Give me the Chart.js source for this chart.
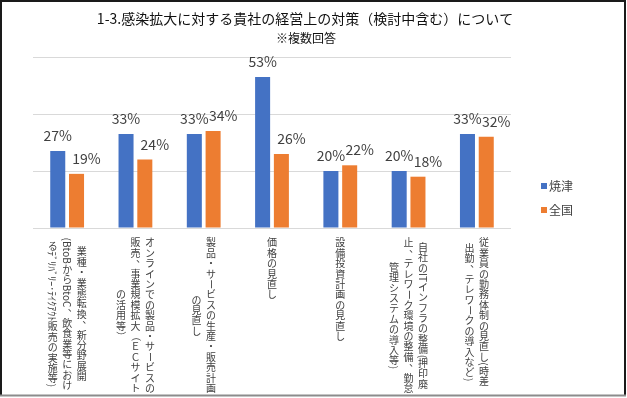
<!DOCTYPE html>
<html><head><meta charset="utf-8">
<script src="https://cdn.jsdelivr.net/npm/chart.js@4.4.0/dist/chart.umd.min.js"></script>
<style>html,body{margin:0;padding:0;background:#fff;}canvas{display:block;}</style>
</head><body>
<canvas id="c" width="627" height="398"></canvas>
<script>
const chartTitle = '1-3.感染拡大に対する貴社の経営上の対策（検討中含む）について';
const chartSubtitle = '※複数回答';
// each category label: columns of vertical text, read right to left
const categories = [
  ['業種・業態転換、新分野展開', '(BtoBからBtoC、飲食業等におけ', 'るﾃﾞﾘﾊﾞﾘｰ･ﾃｲｸｱｳﾄ販売の実施等)'],
  ['オンラインでの製品・サービスの', '販売、事業規模拡大（ＥＣサイト', 'の活用等）'],
  ['製品・サービスの生産・販売計画', 'の見直し'],
  ['価格の見直し'],
  ['設備投資計画の見直し'],
  ['自社のITインフラの整備(押印廃', '止、テレワーク環境の整備、勤怠', '管理システムの導入等)'],
  ['従業員の勤務体制の見直し(時差', '出勤、テレワークの導入など)']
];
const seriesNames = ['焼津', '全国'];
const yaizu = [27, 33, 33, 53, 20, 20, 33];
const zenkoku = [19, 24, 34, 26, 22, 18, 32];
const yTicks = [0, 20, 40, 60];
const colors = ['#4472C4', '#ED7D31'];

const JP = '"Noto Sans CJK JP", "Noto Sans", sans-serif';
const labelShift = [0, 10];

function isHalf(ch) {
  const c = ch.codePointAt(0);
  return (c < 0x2E80) || (c >= 0xFF61 && c <= 0xFF9F);
}
const ROT = 'ー（）―－〜';
const PUNCT = '、。';
const SMALL = 'ぁぃぅぇぉっゃゅょァィゥェォッャュョ';

function drawVertical(ctx, cat, cx, top) {
  const fs = 10, FULL = 10.4, colW = 14.5;
  ctx.font = fs + 'px ' + JP;
  const lens = cat.map(s => {
    let L = 0;
    for (const ch of s) L += isHalf(ch) ? ctx.measureText(ch).width : FULL;
    return L;
  });
  const H = Math.max(...lens);
  const n = cat.length;
  cat.forEach((s, j) => {
    const x = cx + (n - 1) / 2 * colW - j * colW;
    let y = top + (H - lens[j]) / 2;
    for (const ch of s) {
      const half = isHalf(ch);
      const adv = half ? ctx.measureText(ch).width : FULL;
      const cy = y + adv / 2;
      ctx.save();
      ctx.textAlign = 'center';
      ctx.textBaseline = 'middle';
      if (half || ROT.includes(ch)) {
        ctx.translate(x, cy);
        ctx.rotate(Math.PI / 2);
        ctx.fillText(ch, 0, half ? 0.5 : 0);
      } else if (PUNCT.includes(ch)) {
        ctx.fillText(ch, x + 0.55 * fs, cy - 0.5 * fs);
      } else if (SMALL.includes(ch)) {
        ctx.fillText(ch, x + 0.1 * fs, cy - 0.1 * fs);
      } else {
        ctx.fillText(ch, x, cy);
      }
      ctx.restore();
      y += adv;
    }
  });
}

const decor = {
  id: 'decor',
  afterDatasetsDraw(chart) {
    const ctx = chart.ctx;
    ctx.save();
    ctx.fillStyle = '#404040';
    ctx.font = '14px ' + JP;
    ctx.textAlign = 'center';
    ctx.textBaseline = 'alphabetic';
    chart.data.datasets.forEach((ds, di) => {
      const meta = chart.getDatasetMeta(di);
      meta.data.forEach((bar, i) => {
        ctx.fillText(ds.data[i] + '%', bar.x + labelShift[di], bar.y - 10);
      });
    });
    ctx.restore();
  },
  afterDraw(chart) {
    const ctx = chart.ctx;
    const xs = chart.scales.x;
    ctx.save();
    ctx.fillStyle = '#404040';
    categories.forEach((cat, i) => drawVertical(ctx, cat, xs.getPixelForValue(i), 237.5));
    // legend
    ctx.font = '12px ' + JP;
    ctx.textAlign = 'left';
    ctx.textBaseline = 'middle';
    chart.data.datasets.forEach((ds, di) => {
      const ly = 186 + di * 24;
      ctx.fillStyle = ds.backgroundColor;
      ctx.fillRect(541, ly - 3, 6, 6);
      ctx.fillStyle = '#404040';
      ctx.fillText(ds.label, 549, ly);
    });
    // title
    ctx.fillStyle = '#111';
    ctx.textAlign = 'center';
    ctx.font = '14px ' + JP;
    ctx.fillText(chartTitle, 305, 19);
    ctx.font = '12px ' + JP;
    ctx.fillText(chartSubtitle, 306, 38);
    // frame
    ctx.strokeStyle = '#1a1a1a';
    ctx.lineWidth = 2;
    ctx.beginPath();
    ctx.moveTo(1, 396); ctx.lineTo(1, 1); ctx.lineTo(625, 1); ctx.lineTo(625, 396);
    ctx.stroke();
    ctx.strokeStyle = '#8c8c8c';
    ctx.beginPath();
    ctx.moveTo(0, 395.5); ctx.lineTo(626, 395.5);
    ctx.stroke();
    ctx.restore();
  }
};

new Chart(document.getElementById('c').getContext('2d'), {
  type: 'bar',
  data: {
    labels: categories.map(c => c.join('')),
    datasets: [
      { label: seriesNames[0], data: yaizu, backgroundColor: colors[0] },
      { label: seriesNames[1], data: zenkoku, backgroundColor: colors[1] }
    ]
  },
  options: {
    responsive: false,
    animation: false,
    devicePixelRatio: 1,
    layout: { padding: { left: 33, right: 116, top: 57, bottom: 170 } },
    datasets: { bar: { categoryPercentage: 0.55, barPercentage: 0.8 } },
    scales: {
      x: { display: false },
      y: {
        min: 0, max: 60,
        afterBuildTicks: s => { s.ticks = yTicks.map(v => ({ value: v })); },
        ticks: { display: false },
        grid: { color: '#D9D9D9', drawTicks: false },
        border: { display: false }
      }
    },
    plugins: { legend: { display: false }, title: { display: false }, tooltip: { enabled: false } }
  },
  plugins: [decor]
});
</script>
</body></html>
